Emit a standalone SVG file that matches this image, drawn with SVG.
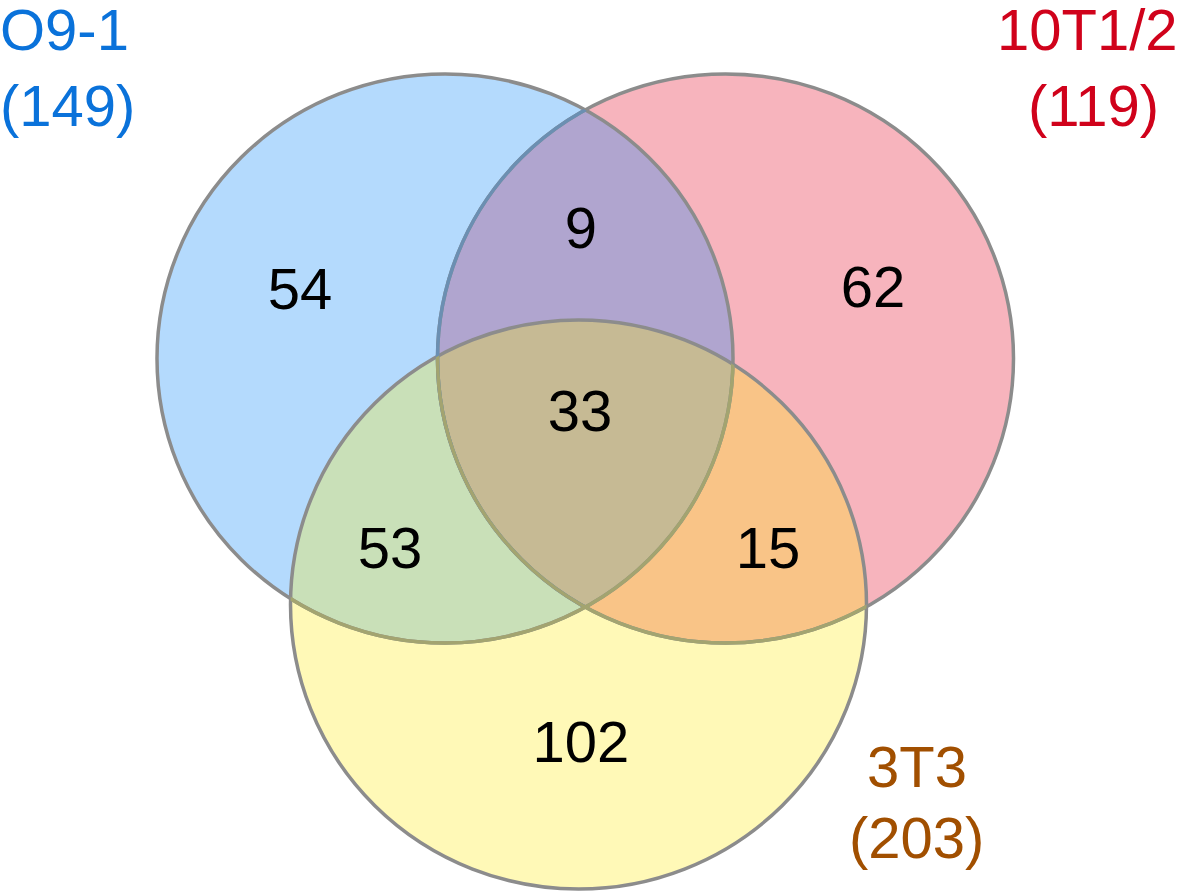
<svg xmlns="http://www.w3.org/2000/svg" width="1179" height="891" viewBox="0 0 1179 891">
<style>
.num{font-family:"Liberation Sans",Arial,sans-serif;font-size:58px;fill:#000;text-anchor:middle}
.lab{font-family:"Liberation Sans",Arial,sans-serif;font-size:58px}
.edge{fill:none;stroke:#8c8c8c;stroke-width:3.5}
</style>
<defs>
<ellipse id="eB" cx="445" cy="358.5" rx="288" ry="284.5"/>
<ellipse id="eR" cx="725.5" cy="358.5" rx="288" ry="284.5"/>
<ellipse id="eY" cx="578.5" cy="604.5" rx="288" ry="284.5"/>
<clipPath id="cB"><use href="#eB"/></clipPath>
<clipPath id="cR"><use href="#eR"/></clipPath>
<clipPath id="cY"><use href="#eY"/></clipPath>
</defs>
<rect width="1179" height="891" fill="#fff"/>
<g id="fills">
<use href="#eB" fill="#b4dafd"/>
<use href="#eR" fill="#f7b4bd"/>
<use href="#eY" fill="#fff9b7"/>
<use href="#eR" fill="#b0a5cf" clip-path="url(#cB)"/>
<use href="#eY" fill="#c9e0b8" clip-path="url(#cB)"/>
<use href="#eY" fill="#f9c487" clip-path="url(#cR)"/>
<g clip-path="url(#cB)"><use href="#eY" fill="#c6ba94" clip-path="url(#cR)"/></g>
</g>
<g id="circles">
<g id="set-o91"><use href="#eB" class="edge"/></g>
<g id="set-10t12"><use href="#eR" class="edge"/></g>
<g id="set-3t3"><use href="#eY" class="edge"/></g>
<use href="#eR" class="edge" style="stroke:#6b8fb2" clip-path="url(#cB)"/>
<g clip-path="url(#cY)">
<use href="#eB" class="edge" style="stroke:#a3a470"/>
<use href="#eR" class="edge" style="stroke:#a3a470"/>
</g>
</g>
<g id="counts">
<text class="num" x="300" y="309">54</text>
<text class="num" x="581" y="248">9</text>
<text class="num" x="873" y="307">62</text>
<text class="num" x="580" y="431">33</text>
<text class="num" x="390" y="568">53</text>
<text class="num" x="768" y="568">15</text>
<text class="num" x="581" y="762">102</text>
</g>
<g id="labels">
<text class="lab" x="0" y="50" fill="#0a72da">O9-1</text>
<text class="lab" x="0" y="126" fill="#0a72da">(149)</text>
<text class="lab" x="997" y="50" fill="#d0021b">10T1/2</text>
<text class="lab" x="1028" y="126" fill="#d0021b">(119)</text>
<text class="lab" x="867" y="787" fill="#a14f00">3T3</text>
<text class="lab" x="849" y="858" fill="#a14f00">(203)</text>
</g>
</svg>
